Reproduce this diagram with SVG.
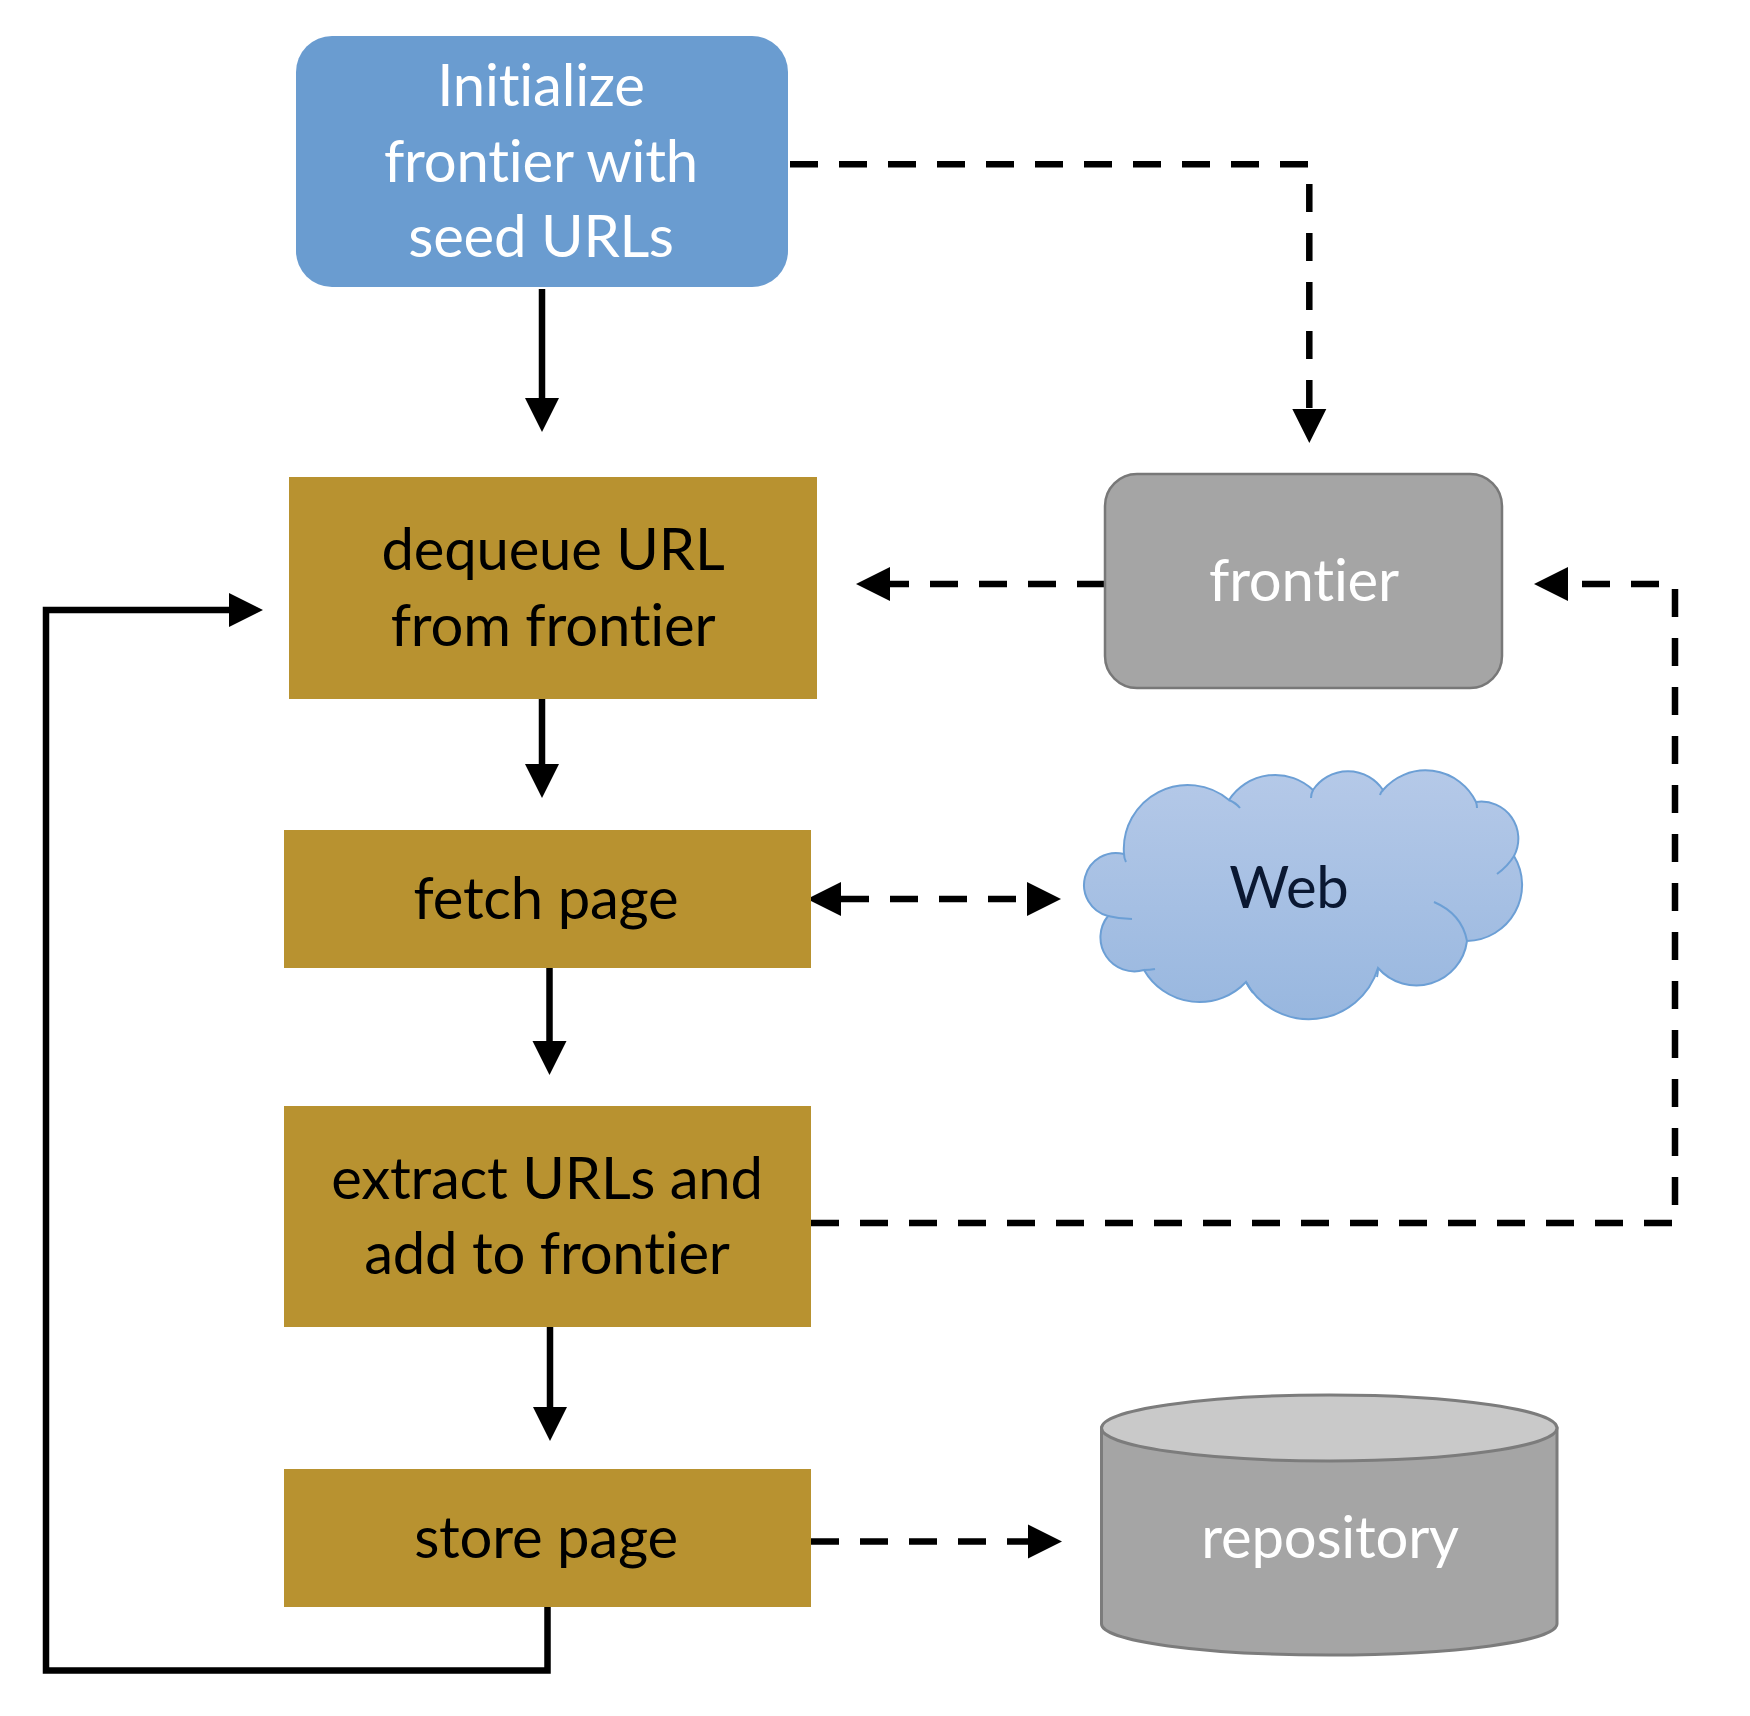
<svg xmlns="http://www.w3.org/2000/svg" width="1750" height="1716" viewBox="0 0 1750 1716">
  <defs>
    <style>
      .lbl { font-family: Lato, "Open Sans", "Liberation Sans", sans-serif; font-size: 58px; text-anchor: middle; font-variant-ligatures: none; font-feature-settings: "liga" 0, "clig" 0, "dlig" 0, "calt" 0; letter-spacing: -0.2px; }
      .dark { fill: #000000; }
      .light { fill: #ffffff; }
      .step { fill: #b89230; }
      .solid { fill: none; stroke: #000000; stroke-width: 6.5; stroke-linejoin: miter; }
      .dash { fill: none; stroke: #000000; stroke-width: 6.5; stroke-dasharray: 28 21; }
    </style>
    <marker id="ah" markerUnits="userSpaceOnUse" markerWidth="35" markerHeight="35" refX="0" refY="17" orient="auto-start-reverse" viewBox="0 0 35 34">
      <path d="M0,0 L34,17 L0,34 Z" fill="#000000"/>
    </marker>
    <linearGradient id="cloudGrad" x1="0" y1="0" x2="0" y2="1">
      <stop offset="0" stop-color="#b5c9e8"/>
      <stop offset="1" stop-color="#98b7df"/>
    </linearGradient>
  </defs>

  <rect width="1750" height="1716" fill="#ffffff"/>

  <g id="connectors">
    <!-- solid flow -->
    <path class="solid" d="M542,289 L542,398" marker-end="url(#ah)"/>
    <path class="solid" d="M542,697 L542,764" marker-end="url(#ah)"/>
    <path class="solid" d="M549.5,968 L549.5,1041" marker-end="url(#ah)"/>
    <path class="solid" d="M550,1327 L550,1407" marker-end="url(#ah)"/>
    <path class="solid" d="M547.5,1607 L547.5,1670.5 L46,1670.5 L46,610 L229,610" marker-end="url(#ah)"/>
    <!-- dashed -->
    <path class="dash" d="M790,164.3 L1309.3,164.3 L1309.3,409" marker-end="url(#ah)"/>
    <path class="dash" d="M1105,584 L890,584" marker-end="url(#ah)"/>
    <path class="dash" d="M811,1223 L1675,1223 L1675,584 L1568,584" marker-end="url(#ah)"/>
    <path class="dash" d="M841,899 L1027,899" marker-start="url(#ah)" marker-end="url(#ah)"/>
    <path class="dash" d="M811,1541.5 L1028,1541.5" marker-end="url(#ah)"/>
  </g>

  <g id="init">
    <rect x="296" y="36" width="492" height="251" rx="36" ry="36" fill="#6a9cd0"/>
    <text class="lbl light" x="541" y="106">Initialize</text>
    <text class="lbl light" x="541" y="182">frontier with</text>
    <text class="lbl light" x="541" y="257">seed URLs</text>
  </g>

  <g id="dequeue">
    <rect class="step" x="289" y="477" width="528" height="222"/>
    <text class="lbl dark" x="553" y="570">dequeue URL</text>
    <text class="lbl dark" x="553" y="646">from frontier</text>
  </g>

  <g id="fetch">
    <rect class="step" x="284" y="830" width="527" height="138"/>
    <text class="lbl dark" x="546" y="919">fetch page</text>
  </g>

  <g id="extract">
    <rect class="step" x="284" y="1106" width="527" height="221"/>
    <text class="lbl dark" x="547" y="1199">extract URLs and</text>
    <text class="lbl dark" x="547" y="1274">add to frontier</text>
  </g>

  <g id="store">
    <rect class="step" x="284" y="1469" width="527" height="138"/>
    <text class="lbl dark" x="546" y="1558">store page</text>
  </g>

  <g id="frontier">
    <rect x="1105" y="474" width="397" height="214" rx="32" ry="32" fill="#a5a5a5" stroke="#787878" stroke-width="2.5"/>
    <text class="lbl light" x="1304" y="601">frontier</text>
  </g>

  <g id="web">
    <path d="M1124,854 A64,64 0 0 1 1229,800 A55,55 0 0 1 1313,790 A42,42 0 0 1 1383,790 A56,56 0 0 1 1476,802 A37,37 0 0 1 1514,856 A56,56 0 0 1 1467,941 A51,51 0 0 1 1378,968 A72,72 0 0 1 1246,982 A64,64 0 0 1 1144,970 A34,34 0 0 1 1108,916 A32,32 0 0 1 1124,854 Z" fill="url(#cloudGrad)" stroke="#6c9fd5" stroke-width="2"/>
    <path d="M1124,854 Q1124,858 1126,862 M1229,800 Q1236,803 1240,808 M1313,790 Q1311,794 1311,798 M1383,790 Q1381,792 1380,795 M1476,802 Q1477,805 1477,808 M1514,856 Q1508,866 1497,874 M1434,902 Q1462,914 1467,941 M1378,968 Q1378,973 1377,977 M1246,982 Q1249,988 1253,993 M1144,970 Q1150,970 1155,969 M1108,916 Q1120,919 1132,919" fill="none" stroke="#6c9fd5" stroke-width="2"/>
    <text class="lbl" x="1289" y="908" fill="#0a1832">Web</text>
  </g>

  <g id="repository">
    <path d="M1101.5,1428 L1101.5,1624 A227.75,31 0 0 0 1557,1624 L1557,1428 Z" fill="#a5a5a5" stroke="#7c7c7c" stroke-width="3"/>
    <ellipse cx="1329.25" cy="1428" rx="227.75" ry="33" fill="#c9c9c9" stroke="#7c7c7c" stroke-width="3"/>
    <text class="lbl light" x="1330" y="1558">repository</text>
  </g>
</svg>
